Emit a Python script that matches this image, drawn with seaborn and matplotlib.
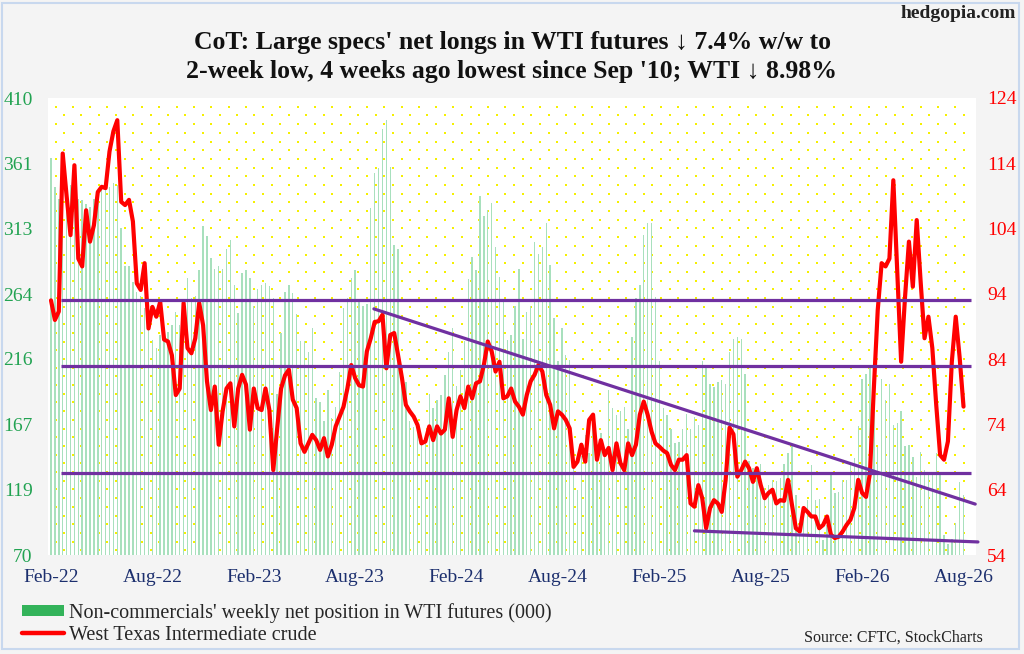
import numpy as np
import pandas as pd
import matplotlib
matplotlib.use("Agg")
import matplotlib.pyplot as plt
import seaborn as sns
from matplotlib.patches import Rectangle, Patch
from matplotlib.lines import Line2D

# ---------------- data (weekly, Feb-2022 .. Aug-2026) ----------------
net_longs = [
    365, 344, 335, 340, 338, 345, 342, 335, 334, 331,
    329, 335, 341, 342, 343, 344, 347, 345, 313, 285,
    285, 273, 266, 263, 254, 239, 230, 224, 234, 229,
    236, 241, 251, 241, 258, 276, 261, 263, 282, 315,
    307, 291, 283, 285, 283, 298, 304, 271, 250, 280,
    282, 276, 255, 268, 271, 272, 270, 261, 190, 235,
    266, 271, 265, 249, 229, 229, 221, 239, 187, 184,
    170, 193, 172, 180, 206, 254, 261, 276, 282, 258,
    255, 257, 328, 354, 358, 387, 394, 359, 301, 298,
    206, 199, 170, 165, 162, 158, 154, 190, 179, 185,
    189, 204, 221, 239, 196, 208, 229, 275, 292, 282,
    337, 322, 327, 332, 299, 277, 258, 230, 234, 255,
    283, 231, 251, 255, 303, 294, 299, 317, 286, 246,
    214, 239, 219, 215, 135, 118, 144, 159, 146, 169,
    140, 161, 149, 193, 179, 174, 177, 180, 164, 232,
    261, 271, 308, 317, 317, 262, 214, 179, 174, 164,
    153, 154, 164, 175, 164, 173, 167, 214, 209, 197,
    195, 199, 200, 197, 221, 231, 232, 231, 205, 140,
    135, 130, 138, 120, 122, 126, 125, 127, 138, 146,
    151, 115, 85, 102, 111, 137, 111, 112, 81, 92,
    130, 116, 117, 126, 126, 137, 142, 166, 201, 205,
    209, 190, 150, 201, 185, 197, 167, 168, 177, 151,
    152, 143, 128, 147, 133, 132, 132, 146, 130, 85,
    78, 82, 94, 124, 115,
]
wti = [
    93.0, 90.0, 91.3, 115.5, 109.0, 103.0, 113.7, 99.4, 98.2, 106.8,
    102.0, 104.5, 109.6, 110.4, 110.2, 115.8, 118.9, 120.6, 108.1, 107.6,
    108.4, 105.1, 95.6, 94.6, 98.7, 88.7, 92.0, 90.5, 92.8, 87.0,
    86.7, 84.6, 78.5, 79.5, 92.6, 85.7, 84.9, 87.2, 92.6, 89.2,
    80.6, 76.2, 79.8, 70.9, 76.0, 79.5, 80.3, 73.7, 79.5, 81.6,
    80.1, 73.2, 79.5, 76.5, 76.2, 79.5, 76.2, 67.0, 73.4, 79.5,
    81.5, 82.4, 77.8, 76.5, 71.1, 69.8, 71.1, 72.4, 71.6, 70.1,
    71.9, 69.1, 70.9, 73.7, 75.2, 76.7, 79.5, 83.1, 81.1, 80.0,
    79.8, 85.2, 87.2, 89.7, 89.8, 90.8, 82.6, 87.7, 88.0, 84.6,
    81.1, 77.0, 76.0, 75.2, 73.9, 71.1, 71.4, 73.7, 71.6, 73.7,
    72.6, 73.2, 78.0, 72.1, 76.2, 78.3, 76.5, 79.8, 78.0, 80.3,
    80.6, 83.1, 86.7, 85.2, 82.1, 83.6, 78.0, 78.3, 79.5, 77.5,
    76.7, 75.5, 78.5, 80.6, 81.6, 83.1, 82.1, 78.5, 77.0, 73.4,
    76.0, 75.5, 74.7, 73.4, 67.5, 68.3, 70.9, 68.3, 74.7, 75.5,
    68.6, 71.6, 69.3, 70.4, 67.0, 71.1, 68.1, 67.0, 71.1, 69.3,
    70.9, 75.5, 77.5, 75.5, 72.9, 71.1, 70.6, 70.0, 69.6, 67.8,
    67.0, 68.6, 68.6, 69.3, 61.9, 61.4, 64.7, 62.7, 58.1, 61.2,
    62.4, 61.9, 60.6, 65.5, 73.5, 72.5, 66.0, 67.0, 68.3, 67.3,
    65.2, 67.3, 64.7, 62.7, 63.5, 64.0, 61.9, 62.4, 62.3, 65.5,
    61.7, 58.1, 57.6, 61.2, 60.6, 59.9, 59.9, 58.1, 58.6, 59.9,
    57.1, 56.6, 56.8, 57.6, 58.6, 59.4, 61.2, 65.5, 63.5, 62.9,
    66.5, 79.5, 91.5, 98.7, 98.2, 99.4, 111.4, 97.5, 83.6, 93.5,
    102.0, 95.1, 105.3, 95.9, 87.2, 90.5, 85.7, 77.0, 69.3, 68.6,
    71.4, 83.6, 90.5, 84.3, 76.73,
]
weeks = list(range(len(wti)))

xtick_weeks = [0, 26, 52, 78, 104, 130, 156, 182, 208, 234]
xtick_labels = ["Feb-22", "Aug-22", "Feb-23", "Aug-23", "Feb-24",
                "Aug-24", "Feb-25", "Aug-25", "Feb-26", "Aug-26"]
left_ticks = [70, 119, 167, 216, 264, 313, 361, 410]
right_ticks = [54, 64, 74, 84, 94, 104, 114, 124]

# analyst's annotation lines (WTI scale)
support_levels = [93.1, 83.0, 66.6]
support_span = [2.5, 236.0]
trend_down_w = [82.8, 237.0]
trend_down_v = [91.7, 61.8]
trend_low_w = [165.0, 237.7]
trend_low_v = [57.7, 56.0]

title = ("CoT: Large specs' net longs in WTI futures \u2193 7.4% w/w to\n"
         "2-week low, 4 weeks ago lowest since Sep '10; WTI \u2193 8.98%")

# ---------------- style ----------------
sns.set_style("white")
plt.rcParams["font.family"] = ["Liberation Serif", "DejaVu Serif"]

W, H = 1024, 654
fig = plt.figure(figsize=(W / 100, H / 100), dpi=100, facecolor="#f4f4f4")

# frame around the picture
fig.patches.append(Rectangle((2 / W, 5 / H), 1017 / W, 646 / H, transform=fig.transFigure,
                             fill=False, edgecolor="#c8d8ee", linewidth=1.5, zorder=-1))

ax_l, ax_r, ax_t, ax_b = 48, 976, 98, 555
ax = fig.add_axes([ax_l / W, 1 - ax_b / H, (ax_r - ax_l) / W, (ax_b - ax_t) / H])
ax.set_facecolor("white")

# dotted yellow background
aw, ah = ax_r - ax_l, ax_b - ax_t
dx, dy = 17.3, 8.7
xs_all, ys_all = [], []
for i, yy in enumerate(np.arange(dy, ah - 2, dy)):
    off = 7.5 if i % 2 == 0 else 7.5 + dx / 2
    xs = np.arange(off, aw - 12, dx)
    xs_all.append(xs)
    ys_all.append(np.full_like(xs, yy))
xs_all = np.concatenate(xs_all) / aw
ys_all = 1 - np.concatenate(ys_all) / ah
ax.scatter(xs_all, ys_all, transform=ax.transAxes, s=3.2, marker="s",
           color="#f5f000", linewidths=0, zorder=0.5)

df = pd.DataFrame({"week": weeks, "net": net_longs, "wti": wti})

sns.barplot(data=df, x="week", y="net", native_scale=True, width=0.36,
            color="#a8e0bd", saturation=1, edgecolor="none", ax=ax, zorder=1)

xlim = (-0.77, 237.2)
ax.set_xlim(*xlim)
ax.set_ylim(70, 410)
ax.set_yticks(left_ticks)
ax.set_yticklabels([str(t) for t in left_ticks])
ax.set_xticks(xtick_weeks)
ax.set_xticklabels(xtick_labels)
ax.tick_params(axis="y", colors="#22a352", labelsize=14, length=0, pad=11)
ax.tick_params(axis="x", colors="#1c2f6e", labelsize=14, length=0, pad=10)
ax.set_xlabel("")
ax.set_ylabel("")
for s in ax.spines.values():
    s.set_visible(False)

ax2 = ax.twinx()
sns.lineplot(data=df, x="week", y="wti", color="#ff0000", linewidth=3.0,
             ax=ax2, zorder=3, sort=False)
for lvl in support_levels:
    ax2.plot(support_span, [lvl, lvl], color="#7030a0", linewidth=2.3,
             zorder=4, solid_capstyle="butt", clip_on=False)
ax2.plot(trend_down_w, trend_down_v, color="#7030a0", linewidth=2.3, zorder=4, clip_on=False)
ax2.plot(trend_low_w, trend_low_v, color="#7030a0", linewidth=2.3, zorder=4, clip_on=False)
ax2.set_ylim(54, 124)
ax2.set_yticks(right_ticks)
ax2.set_yticklabels([str(t) for t in right_ticks])
ax2.tick_params(axis="y", colors="#ff0000", labelsize=14, length=0, pad=8)
ax2.set_xlim(*xlim)
ax2.set_xlabel("")
ax2.set_ylabel("")
for s in ax2.spines.values():
    s.set_visible(False)

# title and texts
fig.text(512 / W, 1 - 57 / H, title, ha="center", va="center", fontsize=18.5,
         fontweight="bold", linespacing=1.3, color="#111111")
fig.text(1016 / W, 1 - 14 / H, "hedgopia.com", ha="right", va="center",
         fontsize=14, fontweight="bold", color="#222222")
fig.text(983 / W, 1 - 638 / H, "Source: CFTC, StockCharts", ha="right", va="center",
         fontsize=11.5, color="#222222")

handles = [Patch(facecolor="#33b35a", edgecolor="none"),
           Line2D([], [], color="#ff0000", linewidth=3.2)]
labels = ["Non-commercials' weekly net position in WTI futures (000)",
          "West Texas Intermediate crude"]
fig.legend(handles, labels, loc="upper left", bbox_to_anchor=(22 / W, 1 - 603 / H),
           frameon=False, fontsize=14.5, handlelength=2.1, handleheight=0.5,
           handletextpad=0.25, labelspacing=0.15, borderpad=0, borderaxespad=0)

fig.savefig("out.png", dpi=100, facecolor=fig.get_facecolor())
